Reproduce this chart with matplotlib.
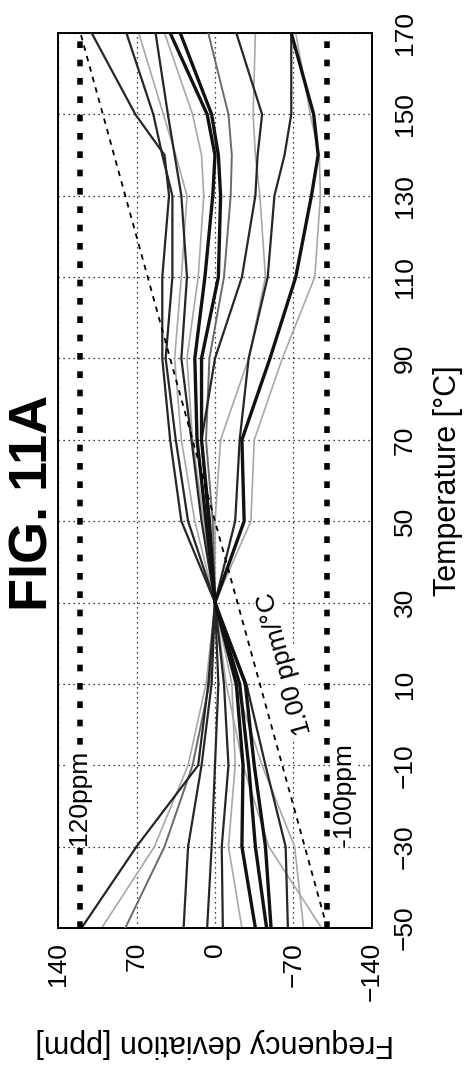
import numpy as np
import matplotlib
matplotlib.use('Agg')
import matplotlib.pyplot as plt

plt.rcParams['font.family'] = ['Liberation Sans', 'DejaVu Sans']
plt.rcParams['axes.unicode_minus'] = True

# -------------- data --------------
# measurement temperatures [°C]
temps = [-50, -30, -10, 10, 30, 50, 70, 90, 110, 130, 140, 150, 170]

# frequency deviation [ppm] per sample
s01 = [119, 70, 15, 6, 0, -18, -22, -30, -47, -53, -62, -68, -68]
s02 = [101, 54, 24, 8, 0, 18, 30, 36, 30, 25, 35, 46, 68]
s03 = [80, 45, 20, 5, 0, 2, 8, 5, -8, -14, -15, -12, 6]
s04 = [28, 24, 12, 3, 0, 30, 40, 47, 47, 41, 45, 71, 110]
s05 = [7, 3, 0, -3, 0, 24, 35, 44, 38, 38, 47, 55, 79]
s06 = [-7, -6, -12, -8, 0, 12, 21, 30, 25, 30, 36, 42, 53]
s07 = [-24, -12, -18, -15, 0, 0, -5, -30, -45, -40, -36, -34, -36]
s08 = [-36, -24, -25, -19, 0, 8, 16, 18, 9, 2, 0, 7, 40]
s09 = [-46, -36, -30, -22, 0, 5, 12, 12, -3, -5, -3, 3, 31]
s10 = [-50, -45, -35, -27, 0, -26, -24, -49, -72, -86, -92, -88, -68]
s11 = [-65, -63, -45, -28, 0, 6, 12, 0, -24, -36, -38, -42, -19]
s12 = [-79, -71, -42, -18, 0, -32, -35, -60, -89, -94, -93, -85, -72]
s13 = [-95, -48, -25, -10, 0, 10, 20, 25, 15, 10, 12, 20, 45]

samples = [s01, s02, s03, s04, s05, s06, s07, s08, s09, s10, s11, s12, s13]
# shade of each sample line: 'light', 'mid', 'dark', 'bold'
shades = ['dark', 'light', 'mid', 'dark', 'dark', 'dark', 'light',
          'bold', 'bold', 'bold', 'dark', 'light', 'light']

# spec limits and 1 ppm/°C reference line
upper_limit = 120
lower_limit = -100
slope_temps = [-50, 170]
slope_dev = [-100, 120]

temp_ticks = [-50, -30, -10, 10, 30, 50, 70, 90, 110, 130, 150, 170]
dev_ticks = [140, 70, 0, -70, -140]

SHADE_STYLE = {
    'light': dict(color='#a8a8a8', lw=1.2, zorder=2),
    'mid': dict(color='#6a6a6a', lw=1.4, zorder=3),
    'dark': dict(color='#262626', lw=1.6, zorder=4),
    'bold': dict(color='#111111', lw=2.4, zorder=5),
}

# -------------- plot (figure is drawn turned 90°) --------------
W, H = 466, 1067
fig = plt.figure(figsize=(W / 100, H / 100), dpi=100)
ax = fig.add_axes([58 / W, 1 - 928 / H, 314 / W, 895 / H])

for order in ['light', 'mid', 'dark', 'bold']:
    for vals, sh in zip(samples, shades):
        if sh == order:
            ax.plot(vals, temps, solid_joinstyle='miter', **SHADE_STYLE[sh])

# spec limit lines
for lim in (upper_limit, lower_limit):
    ax.axvline(lim, color='black', lw=4, linestyle=(0, (1.2, 2.1)),
               dash_capstyle='butt', zorder=6)

# 1.00 ppm/°C
ax.plot(slope_dev, slope_temps, color='black', lw=1.3,
        linestyle=(0, (3, 3)), zorder=6)

ax.set_xlim(140, -140)
ax.set_ylim(-50, 170)
ax.set_xticks(dev_ticks)
ax.set_yticks(temp_ticks)
ax.yaxis.tick_right()
ax.yaxis.set_label_position('right')
ax.tick_params(axis='both', length=0, labelsize=19)
ax.tick_params(axis='x', pad=10)
ax.tick_params(axis='y', pad=15)
for lab in ax.get_xticklabels():
    lab.set_rotation(90)
    lab.set_ha('center')
    lab.set_va('top')
for lab in ax.get_yticklabels():
    lab.set_rotation(90)
    lab.set_ha('left')
    lab.set_va('center')

ax.grid(True, color='black', linestyle=(0, (1, 3)), lw=0.9)
for sp in ax.spines.values():
    sp.set_linestyle((0, (1, 1)))
    sp.set_linewidth(1.4)

ax.set_ylabel('Temperature [°C]', fontsize=22, rotation=90)
ax.yaxis.set_label_coords(1.194, 0.5)
ax.set_xlabel('Frequency deviation [ppm]', fontsize=22, rotation=180)
ax.xaxis.set_label_coords(0.5, -0.1117)

# annotations
box = dict(facecolor='white', edgecolor='none', pad=1)
ax.text(121, -18, '120ppm', rotation=90, fontsize=19, ha='center',
        va='center', bbox=box, zorder=7)
ax.text(-115, -17, '-100ppm', rotation=90, fontsize=19, ha='center',
        va='center', bbox=box, zorder=7)

p = ax.transData.transform(list(zip(slope_dev, slope_temps)))
ang = np.degrees(np.arctan2(p[1, 1] - p[0, 1], p[1, 0] - p[0, 0]))
ax.text(-62, 15, '1.00 ppm/°C', rotation=ang, fontsize=19, ha='center',
        va='center', bbox=box, zorder=7)

fig.text(34 / W, 1 - 503 / H, 'FIG. 11A', rotation=90, fontsize=39,
         fontweight='bold', ha='center', va='center')

fig.savefig('out.png', dpi=100)
